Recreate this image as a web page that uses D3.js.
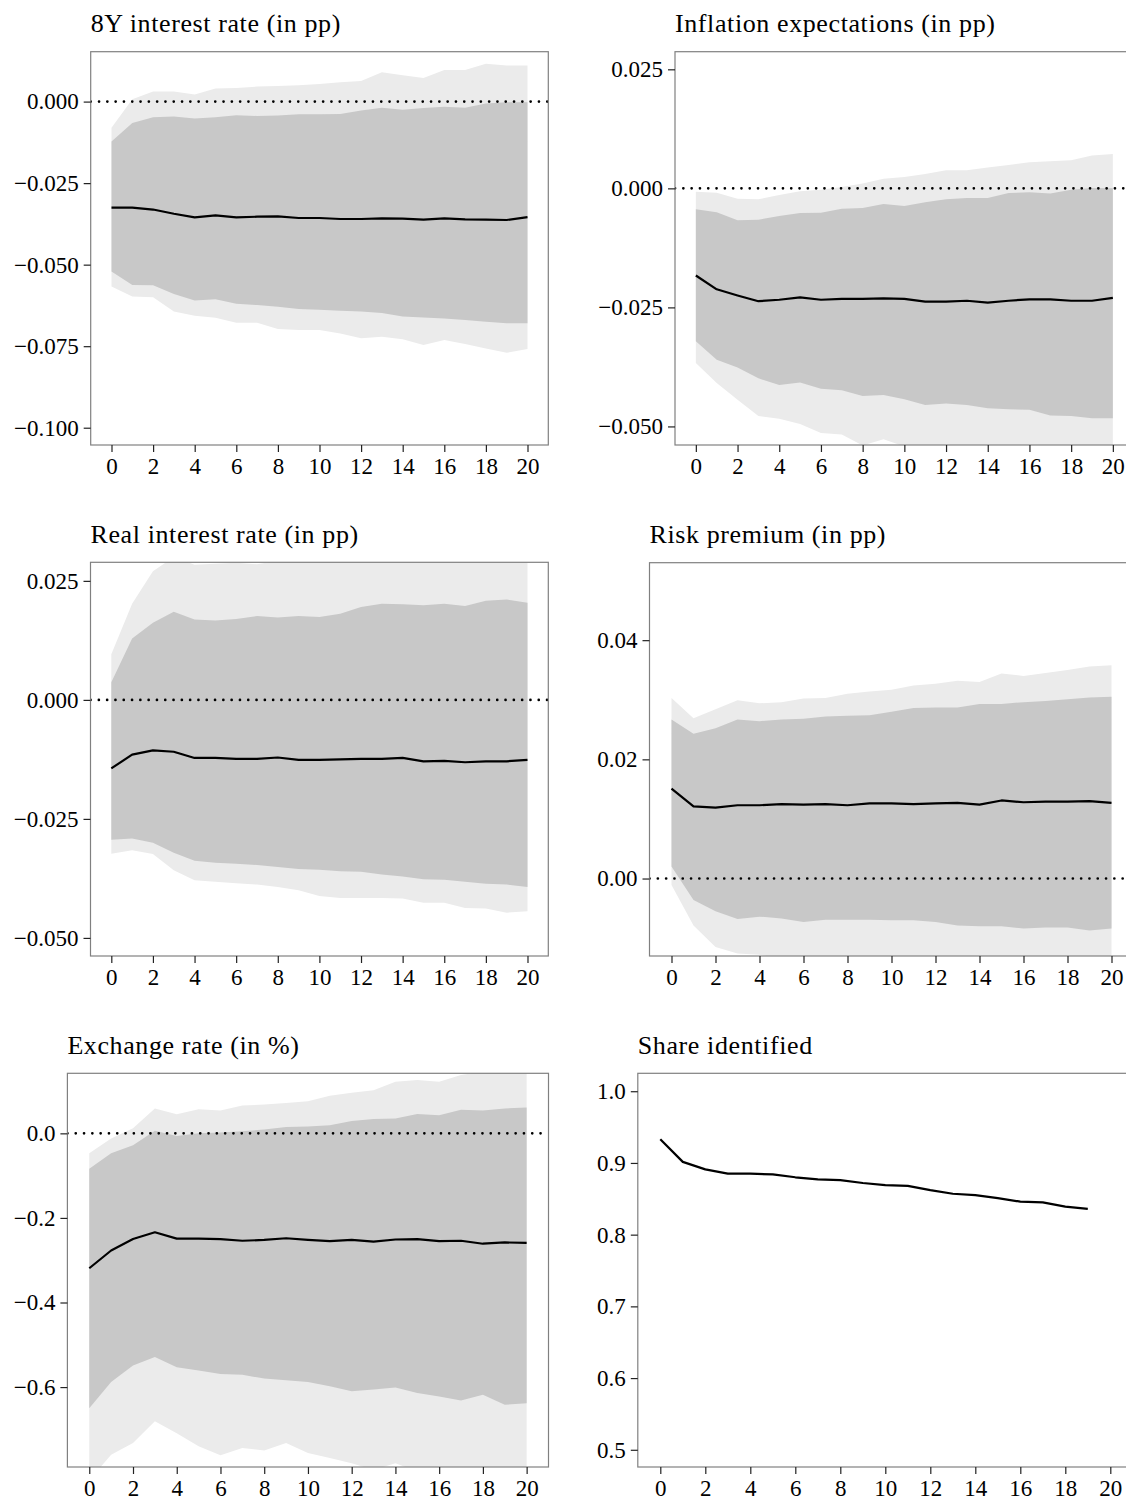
<!DOCTYPE html>
<html>
<head>
<meta charset="utf-8">
<script src="https://cdn.jsdelivr.net/npm/d3@7"></script>
<style>
  body { margin: 0; background: #fff; }
  svg text { font-family: "Liberation Serif", "DejaVu Serif", serif; fill: #000; }
</style>
</head>
<body>
<svg id="chart"></svg>
<script>
const horizon = [0,1,2,3,4,5,6,7,8,9,10,11,12,13,14,15,16,17,18,19,20];

// 8Y interest rate
const rate8yMed  = [-0.0325,-0.0325,-0.0331,-0.0344,-0.0355,-0.0349,-0.0355,-0.0353,-0.0352,-0.0357,-0.0357,-0.0360,-0.0360,-0.0358,-0.0359,-0.0362,-0.0358,-0.0361,-0.0362,-0.0363,-0.0354];
const rate8yHi68 = [-0.0122,-0.0066,-0.0048,-0.0046,-0.0052,-0.0048,-0.0042,-0.0044,-0.0043,-0.0039,-0.0039,-0.0038,-0.0027,-0.0019,-0.0025,-0.0020,-0.0016,-0.0019,-0.0006,-0.0002,-0.0002];
const rate8yLo68 = [-0.0521,-0.0562,-0.0563,-0.0590,-0.0610,-0.0606,-0.0620,-0.0624,-0.0629,-0.0636,-0.0638,-0.0641,-0.0644,-0.0648,-0.0659,-0.0662,-0.0665,-0.0670,-0.0675,-0.0680,-0.0680];
const rate8yHi90 = [-0.0080,0.0007,0.0031,0.0031,0.0022,0.0040,0.0042,0.0046,0.0048,0.0050,0.0054,0.0059,0.0063,0.0090,0.0081,0.0072,0.0097,0.0097,0.0116,0.0111,0.0111];
const rate8yLo90 = [-0.0567,-0.0598,-0.0600,-0.0644,-0.0657,-0.0663,-0.0678,-0.0678,-0.0697,-0.0700,-0.0700,-0.0711,-0.0726,-0.0721,-0.0729,-0.0746,-0.0731,-0.0743,-0.0757,-0.0770,-0.0759];

// Inflation expectations
const inflMed  = [-0.0183,-0.0212,-0.0225,-0.0237,-0.0234,-0.0229,-0.0234,-0.0232,-0.0232,-0.0231,-0.0232,-0.0238,-0.0238,-0.0236,-0.0240,-0.0236,-0.0233,-0.0233,-0.0236,-0.0236,-0.0230];
const inflHi68 = [-0.0044,-0.0050,-0.0067,-0.0066,-0.0058,-0.0052,-0.0051,-0.0043,-0.0041,-0.0033,-0.0037,-0.0029,-0.0023,-0.0020,-0.0020,-0.0010,-0.0008,-0.0011,-0.0003,0.0001,0.0000];
const inflLo68 = [-0.0321,-0.0360,-0.0376,-0.0399,-0.0413,-0.0408,-0.0421,-0.0424,-0.0436,-0.0434,-0.0443,-0.0455,-0.0452,-0.0455,-0.0462,-0.0464,-0.0465,-0.0477,-0.0478,-0.0483,-0.0483];
const inflHi90 = [-0.0007,-0.0009,-0.0022,-0.0023,-0.0014,-0.0006,-0.0003,0.0003,0.0010,0.0020,0.0024,0.0030,0.0038,0.0038,0.0044,0.0049,0.0055,0.0057,0.0059,0.0069,0.0072];
const inflLo90 = [-0.0367,-0.0409,-0.0444,-0.0478,-0.0484,-0.0495,-0.0514,-0.0517,-0.0540,-0.0527,-0.0542,-0.0548,-0.0552,-0.0555,-0.0560,-0.0562,-0.0566,-0.0570,-0.0574,-0.0578,-0.0580];

// Real interest rate
const realMed  = [-0.0144,-0.0115,-0.0106,-0.0109,-0.0122,-0.0122,-0.0124,-0.0124,-0.0121,-0.0126,-0.0126,-0.0125,-0.0124,-0.0124,-0.0122,-0.0129,-0.0128,-0.0131,-0.0129,-0.0129,-0.0126];
const realHi68 = [0.0037,0.0129,0.0162,0.0185,0.0169,0.0167,0.0170,0.0176,0.0173,0.0176,0.0174,0.0181,0.0195,0.0202,0.0201,0.0199,0.0202,0.0197,0.0208,0.0211,0.0204];
const realLo68 = [-0.0294,-0.0291,-0.0300,-0.0321,-0.0338,-0.0342,-0.0344,-0.0347,-0.0351,-0.0355,-0.0357,-0.0360,-0.0361,-0.0367,-0.0371,-0.0377,-0.0378,-0.0382,-0.0386,-0.0388,-0.0393];
const realHi90 = [0.0096,0.0202,0.0270,0.0300,0.0284,0.0286,0.0288,0.0285,0.0292,0.0300,0.0302,0.0305,0.0310,0.0312,0.0312,0.0315,0.0316,0.0315,0.0320,0.0322,0.0320];
const realLo90 = [-0.0323,-0.0316,-0.0324,-0.0358,-0.0379,-0.0382,-0.0385,-0.0388,-0.0393,-0.0400,-0.0412,-0.0416,-0.0416,-0.0416,-0.0417,-0.0426,-0.0426,-0.0437,-0.0438,-0.0447,-0.0444];

// Risk premium
const riskMed  = [0.0151,0.0121,0.0119,0.0123,0.0123,0.0125,0.0124,0.0125,0.0123,0.0126,0.0126,0.0125,0.0126,0.0127,0.0124,0.0131,0.0128,0.0129,0.0129,0.0130,0.0127];
const riskHi68 = [0.0267,0.0243,0.0252,0.0267,0.0264,0.0267,0.0268,0.0272,0.0273,0.0274,0.0280,0.0286,0.0287,0.0287,0.0293,0.0293,0.0296,0.0298,0.0301,0.0304,0.0305];
const riskLo68 = [0.0020,-0.0036,-0.0055,-0.0068,-0.0064,-0.0067,-0.0073,-0.0069,-0.0069,-0.0069,-0.0070,-0.0070,-0.0073,-0.0079,-0.0080,-0.0080,-0.0084,-0.0082,-0.0082,-0.0087,-0.0084];
const riskHi90 = [0.0303,0.0269,0.0284,0.0299,0.0294,0.0296,0.0302,0.0303,0.0310,0.0314,0.0317,0.0324,0.0327,0.0332,0.0330,0.0344,0.0340,0.0345,0.0350,0.0356,0.0358];
const riskLo90 = [-0.0011,-0.0079,-0.0115,-0.0126,-0.0128,-0.0134,-0.0138,-0.0137,-0.0140,-0.0141,-0.0142,-0.0144,-0.0146,-0.0148,-0.0149,-0.0150,-0.0152,-0.0153,-0.0154,-0.0156,-0.0157];

// Exchange rate
const fxMed  = [-0.319,-0.277,-0.250,-0.234,-0.249,-0.249,-0.250,-0.254,-0.252,-0.248,-0.252,-0.255,-0.252,-0.256,-0.251,-0.250,-0.255,-0.254,-0.261,-0.258,-0.259];
const fxHi68 = [-0.084,-0.047,-0.028,0.006,-0.006,0.000,0.002,0.005,0.009,0.015,0.016,0.019,0.029,0.034,0.035,0.046,0.043,0.056,0.054,0.059,0.061];
const fxLo68 = [-0.650,-0.588,-0.549,-0.529,-0.553,-0.561,-0.569,-0.571,-0.580,-0.584,-0.588,-0.598,-0.610,-0.606,-0.601,-0.614,-0.622,-0.632,-0.618,-0.642,-0.638];
const fxHi90 = [-0.047,-0.012,0.012,0.059,0.045,0.057,0.054,0.066,0.068,0.072,0.076,0.089,0.096,0.102,0.122,0.126,0.122,0.138,0.146,0.150,0.150];
const fxLo90 = [-0.820,-0.760,-0.732,-0.681,-0.709,-0.740,-0.761,-0.744,-0.750,-0.732,-0.756,-0.768,-0.780,-0.796,-0.780,-0.800,-0.815,-0.820,-0.825,-0.830,-0.835];

// Share identified (horizons 0..19)
const shareVals = [0.933,0.9015,0.891,0.885,0.885,0.884,0.880,0.877,0.876,0.872,0.869,0.868,0.862,0.857,0.855,0.851,0.846,0.845,0.839,0.836];

const W = 1126, H = 1501;
const svg = d3.select("#chart").attr("width", W).attr("height", H);

const panels = [
  { title: "8Y interest rate (in pp)", box: [90.7, 548.3, 51.7, 445], y: [-0.1053, 0.0153],
    ticks: [0, -0.025, -0.05, -0.075, -0.1], fmt: ".3f",
    med: rate8yMed, lo68: rate8yLo68, hi68: rate8yHi68, lo90: rate8yLo90, hi90: rate8yHi90 },
  { title: "Inflation expectations (in pp)", box: [675, 1133.7, 51.7, 445], y: [-0.0539, 0.0287],
    ticks: [0.025, 0, -0.025, -0.05], fmt: ".3f",
    med: inflMed, lo68: inflLo68, hi68: inflHi68, lo90: inflLo90, hi90: inflHi90 },
  { title: "Real interest rate (in pp)", box: [90.5, 548.3, 562.3, 956], y: [-0.0538, 0.0289],
    ticks: [0.025, 0, -0.025, -0.05], fmt: ".3f",
    med: realMed, lo68: realLo68, hi68: realHi68, lo90: realLo90, hi90: realHi90 },
  { title: "Risk premium (in pp)", box: [649.5, 1133.5, 562.7, 956], y: [-0.0130, 0.0530],
    ticks: [0, 0.02, 0.04], fmt: ".2f",
    med: riskMed, lo68: riskLo68, hi68: riskHi68, lo90: riskLo90, hi90: riskHi90 },
  { title: "Exchange rate (in %)", box: [67.4, 548.5, 1073.3, 1467], y: [-0.789, 0.142],
    ticks: [0, -0.2, -0.4, -0.6], fmt: ".1f",
    med: fxMed, lo68: fxLo68, hi68: fxHi68, lo90: fxLo90, hi90: fxHi90 },
  { title: "Share identified", box: [637.8, 1132.8, 1073.3, 1467], y: [0.476, 1.025],
    ticks: [0.5, 0.6, 0.7, 0.8, 0.9, 1.0], fmt: ".1f",
    med: shareVals, noZero: true }
];

panels.forEach((p, k) => {
  const [x0, x1, y0, y1] = p.box;
  const x = d3.scaleLinear().domain([-1, 21]).range([x0, x1]);
  const y = d3.scaleLinear().domain(p.y).range([y1, y0]);
  const g = svg.append("g");

  const clipId = "clip" + k;
  g.append("clipPath").attr("id", clipId)
    .append("rect").attr("x", x0).attr("y", y0).attr("width", x1 - x0).attr("height", y1 - y0);
  const plot = g.append("g").attr("clip-path", `url(#${clipId})`);

  if (p.lo90) {
    const rows = horizon.map((h, i) => ({ h, lo90: p.lo90[i], hi90: p.hi90[i], lo68: p.lo68[i], hi68: p.hi68[i] }));
    plot.append("path").datum(rows).attr("fill", "#ebebeb")
      .attr("d", d3.area().x(d => x(d.h)).y0(d => y(d.lo90)).y1(d => y(d.hi90)));
    plot.append("path").datum(rows).attr("fill", "#c8c8c8")
      .attr("d", d3.area().x(d => x(d.h)).y0(d => y(d.lo68)).y1(d => y(d.hi68)));
  }

  if (!p.noZero) {
    plot.append("line")
      .attr("x1", x0).attr("x2", x1).attr("y1", y(0)).attr("y2", y(0))
      .attr("stroke", "#000").attr("stroke-width", 2.6)
      .attr("stroke-linecap", "round")
      .attr("stroke-dasharray", "0.1 8.2");
  }

  plot.append("path").datum(p.med.map((v, i) => [horizon[i], v]))
    .attr("fill", "none").attr("stroke", "#000").attr("stroke-width", 2.2)
    .attr("stroke-linejoin", "round")
    .attr("d", d3.line().x(d => x(d[0])).y(d => y(d[1])));

  // frame
  g.append("rect").attr("x", x0).attr("y", y0).attr("width", x1 - x0).attr("height", y1 - y0)
    .attr("fill", "none").attr("stroke", "#808080").attr("stroke-width", 1.2);

  const xAxis = g.append("g").attr("transform", `translate(0,${y1})`)
    .call(d3.axisBottom(x).tickValues([0,2,4,6,8,10,12,14,16,18,20]).tickFormat(d3.format("d"))
      .tickSize(7).tickPadding(6));
  const yAxis = g.append("g").attr("transform", `translate(${x0},0)`)
    .call(d3.axisLeft(y).tickValues(p.ticks).tickFormat(d3.format(p.fmt))
      .tickSize(7).tickPadding(5));
  [xAxis, yAxis].forEach(a => {
    a.select(".domain").remove();
    a.selectAll(".tick line").attr("stroke", "#222").attr("stroke-width", 1.2);
    a.selectAll(".tick text").attr("font-size", 23).attr("font-family", null);
  });

  g.append("text").attr("x", x0).attr("y", y0 - 19.5)
    .attr("font-size", 26).attr("letter-spacing", 0.6).text(p.title);
});
</script>
</body>
</html>
